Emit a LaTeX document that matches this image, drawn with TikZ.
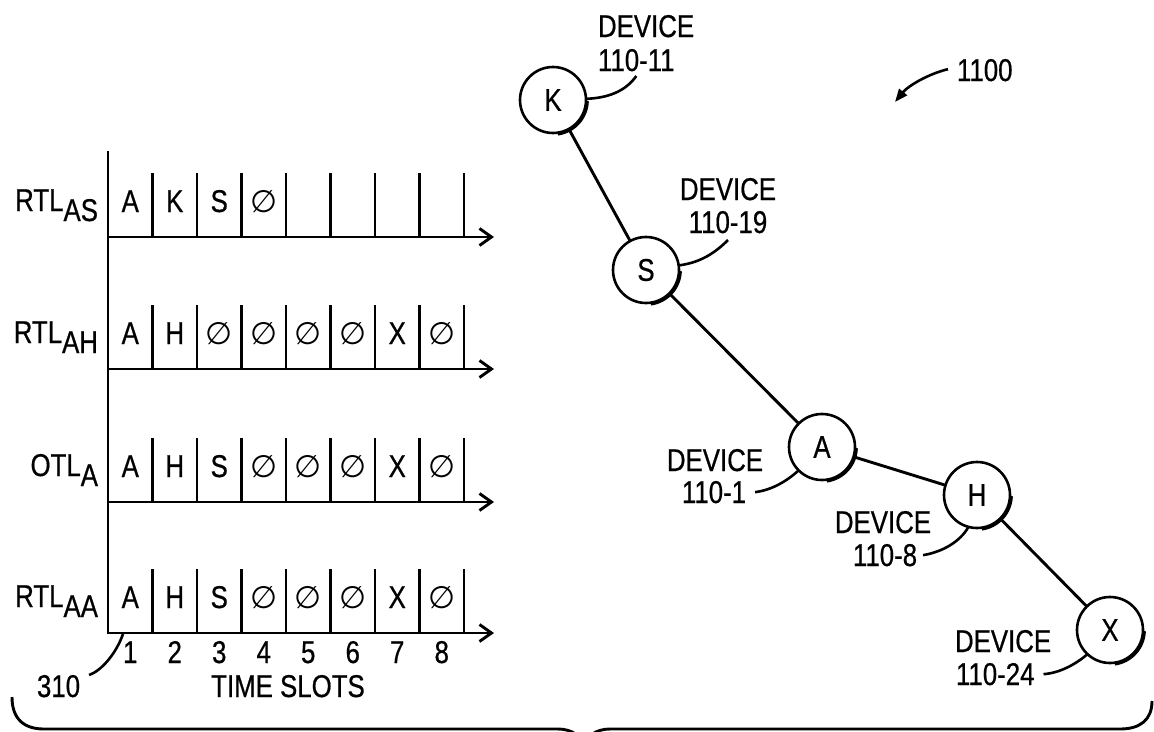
\documentclass[tikz,border=0pt]{standalone}
\usepackage{fontspec}
\setmainfont{Liberation Sans}[FakeStretch=0.82,FakeBold=0.6]
\newfontfamily\symfont{DejaVu Sans}
\usetikzlibrary{arrows.meta}
\newcommand{\emptysl}{{\symfont\fontsize{31}{31}\selectfont ∅}}
\begin{document}
\begin{tikzpicture}[x=1pt,y=-1pt,
  lw/.style={line width=2.9pt},
  txt/.style={inner sep=0pt, outer sep=0pt, font=\fontsize{31.5}{33}\selectfont},
  dev/.style={circle, draw, line width=2.6pt, minimum size=66pt, inner sep=0pt, outer sep=0pt, font=\fontsize{31.5}{33}\selectfont},
  shadowarc/.style={line width=2.6pt},
  leader/.style={line width=2.6pt},
  slotarrow/.style={lw, -{Straight Barb[length=12pt,width=17pt]}}]
\useasboundingbox (0,0) rectangle (1154,731);
\clip (0,0) rectangle (1154,731);

% ---------- timelines ----------
\draw[lw] (108,151) -- (108,634);
\foreach \ay in {237,369,502,633} {
  \draw[slotarrow] (108,\ay) -- (494,\ay);
  \foreach \k in {1,...,8} \draw[lw] (108+44.5*\k,\ay) -- (108+44.5*\k,\ay-64);
}
% row labels
\node[txt, anchor=base east] (l1) at (98,211) {RTL\raisebox{-10pt}{AS}};
\node[txt, anchor=base east] (l2) at (98,343) {RTL\raisebox{-10pt}{AH}};
\node[txt, anchor=base east] (l3) at (98,476) {OTL\raisebox{-10pt}{A}};
\node[txt, anchor=base east] (l4) at (98,607) {RTL\raisebox{-10pt}{AA}};
% cell contents
\foreach \k/\c in {1/A,2/K,3/S,4/\emptysl}
  \node[txt, anchor=base] (r1c\k) at (130.25+44.5*\k-44.5,212) {\c};
\foreach \k/\c in {1/A,2/H,3/\emptysl,4/\emptysl,5/\emptysl,6/\emptysl,7/X,8/\emptysl}
  \node[txt, anchor=base] (r2c\k) at (130.25+44.5*\k-44.5,344) {\c};
\foreach \k/\c in {1/A,2/H,3/S,4/\emptysl,5/\emptysl,6/\emptysl,7/X,8/\emptysl}
  \node[txt, anchor=base] (r3c\k) at (130.25+44.5*\k-44.5,477) {\c};
\foreach \k/\c in {1/A,2/H,3/S,4/\emptysl,5/\emptysl,6/\emptysl,7/X,8/\emptysl}
  \node[txt, anchor=base] (r4c\k) at (130.25+44.5*\k-44.5,608) {\c};
% slot numbers
\foreach \k in {1,...,8}
  \node[txt, anchor=base] (t\k) at (130.25+44.5*\k-44.5,663) {\k};
\node[txt, anchor=base] (ts) at (288,697) {TIME SLOTS};
\node[txt, anchor=base west] (n310) at (37,697) {310};
\coordinate (p310) at (123,634);
\draw[leader] ([xshift=9pt]n310.north east) .. controls (101,671) and (116,654) .. (p310);

% ---------- devices ----------
\node[dev] (K) at (553,100) {K};
\node[dev] (S) at (646,270) {S};
\node[dev] (A) at (822,447) {A};
\node[dev] (H) at (977,495) {H};
\node[dev] (X) at (1110,630) {X};
\foreach \n in {K,S,A,H,X}
  \draw[shadowarc] (\n) ++(2:34.6) arc[start angle=2, end angle=82, radius=34.6];
\draw[lw] (K) -- (S);
\draw[lw] (S) -- (A);
\draw[lw] (A) -- (H);
\draw[lw] (H) -- (X);

\node[txt, anchor=base west] (dK1) at (598,37) {DEVICE};
\node[txt, anchor=base west] (dK2) at (598,71) {110-11};
\node[txt, anchor=base] (dS1) at (728,200) {DEVICE};
\node[txt, anchor=base] (dS2) at (728,233) {110-19};
\node[txt, anchor=base] (dA1) at (715,471) {DEVICE};
\node[txt, anchor=base] (dA2) at (714,503) {110-1};
\node[txt, anchor=base] (dH1) at (883,533) {DEVICE};
\node[txt, anchor=base] (dH2) at (885,566) {110-8};
\node[txt, anchor=base west] (dX1) at (955,652) {DEVICE};
\node[txt, anchor=base west] (dX2) at (956,685) {110-24};

\draw[leader] ([yshift=-5pt]dK2.base) .. controls (625,92) and (607,98) .. (K.2);
\draw[leader] ([yshift=-7pt]dS2.base) .. controls (712,256) and (697,263) .. (S.8);
\draw[leader] ([xshift=9pt]dA2.east) .. controls (772,490) and (787,481) .. (A.225);
\draw[leader] ([xshift=6pt]dH2.east) .. controls (942,552) and (960,542) .. (H.255);
\draw[leader] ([xshift=9pt]dX2.east) .. controls (1060,673) and (1076,664) .. (X.227);

% ---------- 1100 ----------
\node[txt, anchor=base west] (n1100) at (957,81) {1100};
\coordinate (a1100) at (895,102);
\draw[leader, -{Triangle[length=13pt,width=10pt]}] ([xshift=-9pt,yshift=1pt]n1100.west) .. controls (928,74) and (908,86) .. (a1100);

% ---------- brace ----------
\draw[line width=2.9pt] (12,697) .. controls (12,719) and (24,729) .. (44,729) -- (558,729) .. controls (572,729) and (582,736) .. (584,748);
\draw[line width=2.9pt] (1152,701) .. controls (1152,720) and (1140,729) .. (1120,729) -- (610,729) .. controls (596,729) and (586,736) .. (584,748);
\end{tikzpicture}
\end{document}
